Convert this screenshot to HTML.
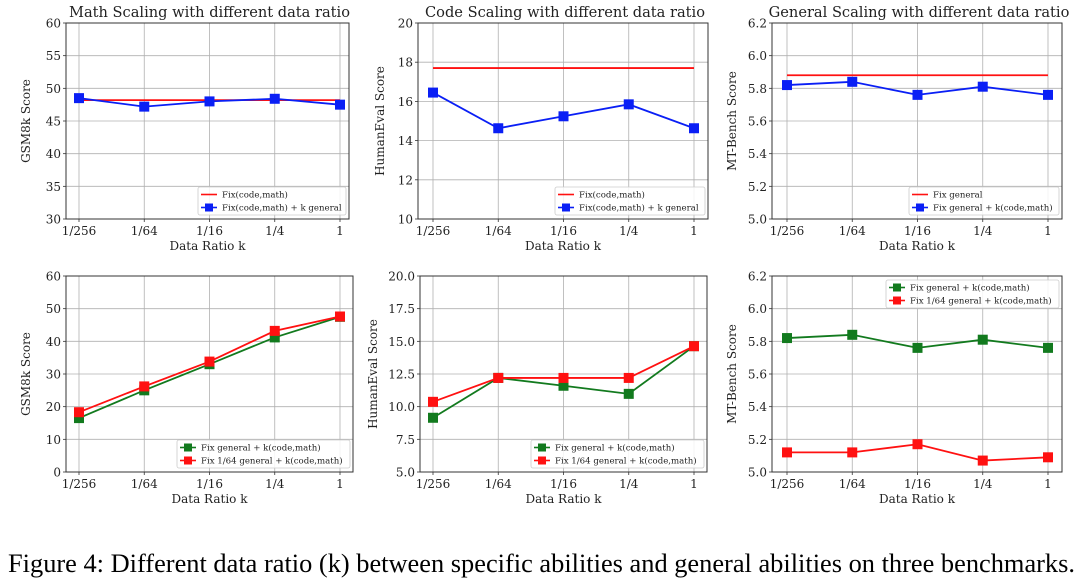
<!DOCTYPE html>
<html><head><meta charset="utf-8"><style>
body{margin:0;background:#fff;width:1080px;height:581px;overflow:hidden}
svg{display:block}
text{font-family:"DejaVu Serif","Liberation Serif",serif;fill:#222}
</style></head><body>
<svg id="fig" width="1080" height="581"></svg>
<script>
const categories=["1/256","1/64","1/16","1/4","1"];
// Panel 1: Math
const mathFixed=[48.2,48.2,48.2,48.2,48.2];
const mathKGeneral=[48.5,47.2,48.0,48.4,47.5];
const mathTicks=[30,35,40,45,50,55,60];
// Panel 2: Code
const codeFixed=[17.7,17.7,17.7,17.7,17.7];
const codeKGeneral=[16.45,14.63,15.24,15.85,14.63];
const codeTicks=[10,12,14,16,18,20];
// Panel 3: General
const genFixed=[5.88,5.88,5.88,5.88,5.88];
const genKCodeMath=[5.82,5.84,5.76,5.81,5.76];
const genTicks=[5.0,5.2,5.4,5.6,5.8,6.0,6.2];
// Panel 4
const gsmFixGeneral=[16.5,25.0,33.0,41.2,47.5];
const gsmFix164=[18.3,26.2,33.8,43.2,47.6];
const gsmTicks=[0,10,20,30,40,50,60];
// Panel 5
const heFixGeneral=[9.15,12.2,11.6,10.98,14.63];
const heFix164=[10.37,12.2,12.2,12.2,14.63];
const heTicks=[5.0,7.5,10.0,12.5,15.0,17.5,20.0];
// Panel 6
const mtFixGeneral=[5.82,5.84,5.76,5.81,5.76];
const mtFix164=[5.12,5.12,5.17,5.07,5.09];
const mtTicks=[5.0,5.2,5.4,5.6,5.8,6.0,6.2];

const NS="http://www.w3.org/2000/svg";
const svg=document.getElementById('fig');
function mk(tag,attrs,parent,txt){const e=document.createElementNS(NS,tag);for(const k in attrs)e.setAttribute(k,attrs[k]);if(txt!==undefined)e.textContent=txt;(parent||svg).appendChild(e);return e;}

function panel(p){
  const g=mk('g',{});
  
  
  const ymin=p.ticks[0],ymax=p.ticks[p.ticks.length-1];
  const X=i=>p.tx0+(p.tx1-p.tx0)*i/(categories.length-1);
  const Y=v=>p.y1-(v-ymin)/(ymax-ymin)*(p.y1-p.y0);
  categories.forEach((c,i)=>{
    mk('line',{x1:X(i),x2:X(i),y1:p.y0,y2:p.y1,stroke:'#b0b0b0','stroke-width':0.8},g);
    mk('line',{x1:X(i),x2:X(i),y1:p.y1,y2:p.y1+3,stroke:'#333','stroke-width':0.8},g);
    const t=mk('text',{x:X(i),y:p.y1+16,'text-anchor':'middle','font-size':12},g,c);
    
    
  });
  p.ticks.forEach(v=>{
    mk('line',{x1:p.x0,x2:p.x1,y1:Y(v),y2:Y(v),stroke:'#b0b0b0','stroke-width':0.8},g);
    mk('line',{x1:p.x0-3,x2:p.x0,y1:Y(v),y2:Y(v),stroke:'#333','stroke-width':0.8},g);
    const t=mk('text',{x:p.x0-5,y:Y(v)+4.5,'text-anchor':'end','font-size':12},g,p.fmt(v));
    
    
  });
  mk('rect',{x:p.x0,y:p.y0,width:p.x1-p.x0,height:p.y1-p.y0,fill:'none',stroke:'#333','stroke-width':1},g);
  if(p.title){const t=mk('text',{x:(p.x0+p.x1)/2+2,y:p.y0-6,'text-anchor':'middle','font-size':14.6},g,p.title);
    }
  const xl=mk('text',{x:(p.x0+p.x1)/2,y:p.y1+31,'text-anchor':'middle','font-size':12},g,'Data Ratio k');
  
  const cy=(p.y0+p.y1)/2, cx=p.x0-p.ylabOff;
  const yl=mk('text',{x:cx,y:cy,'text-anchor':'middle','font-size':12,transform:`rotate(-90 ${cx} ${cy})`},g,p.ylabel);
  
  p.series.forEach(s=>{
    const pts=s.data.map((v,i)=>X(i)+','+Y(v)).join(' ');
    const l=mk('polyline',{points:pts,fill:'none',stroke:s.color,'stroke-width':1.8},g);
    
    if(s.marker) s.data.forEach((v,i)=>{
      const r=mk('rect',{x:X(i)-5,y:Y(v)-5,width:10,height:10,fill:s.color},g);
      
    });
  });
  const lw=p.legW,lh=28;
  const lx=p.x1-3-lw, ly=p.legTop?p.y0+4:p.y1-4-lh;
  const lg=mk('g',{},g);
  
  mk('rect',{x:lx,y:ly,width:lw,height:lh,fill:'#fff','fill-opacity':0.85,stroke:'#ccc','stroke-width':0.8,rx:2},lg);
  p.series.forEach((s,k)=>{
    const yy=ly+7.5+k*13;
    mk('line',{x1:lx+3,x2:lx+19,y1:yy,y2:yy,stroke:s.color,'stroke-width':1.6},lg);
    if(s.marker)mk('rect',{x:lx+7,y:yy-4,width:8,height:8,fill:s.color},lg);
    const t=mk('text',{x:lx+24,y:yy+3,'font-size':8.6},lg,s.label);
    
  });
}
const f0=v=>String(v), f1=v=>v.toFixed(1);
const R='#ff1111',B='#0a1ff5',G='#127a1e';
panel({name:'math-scaling-chart',x0:66,x1:349,tx0:79,tx1:340,y0:23,y1:219,ticks:mathTicks,fmt:f0,title:'Math Scaling with different data ratio',ylabel:'GSM8k Score',ylabOff:36,legW:148,
  series:[{data:mathFixed,color:R,label:'Fix(code,math)'},{data:mathKGeneral,color:B,marker:1,label:'Fix(code,math) + k general'}]});
panel({name:'code-scaling-chart',x0:418,x1:708,tx0:433,tx1:694,y0:23,y1:219,ticks:codeTicks,fmt:f0,title:'Code Scaling with different data ratio',ylabel:'HumanEval Score',ylabOff:34,legW:150,
  series:[{data:codeFixed,color:R,label:'Fix(code,math)'},{data:codeKGeneral,color:B,marker:1,label:'Fix(code,math) + k general'}]});
panel({name:'general-scaling-chart',x0:772,x1:1062,tx0:787,tx1:1048,y0:23,y1:219,ticks:genTicks,fmt:f1,title:'General Scaling with different data ratio',ylabel:'MT-Bench Score',ylabOff:36,legW:150,
  series:[{data:genFixed,color:R,label:'Fix general'},{data:genKCodeMath,color:B,marker:1,label:'Fix general + k(code,math)'}]});
panel({name:'gsm8k-fix-chart',x0:66,x1:353,tx0:79,tx1:340,y0:276,y1:472,ticks:gsmTicks,fmt:f0,ylabel:'GSM8k Score',ylabOff:36,legW:173,
  series:[{data:gsmFixGeneral,color:G,marker:1,label:'Fix general + k(code,math)'},{data:gsmFix164,color:R,marker:1,label:'Fix 1/64 general + k(code,math)'}]});
panel({name:'humaneval-fix-chart',x0:420,x1:707,tx0:433,tx1:694,y0:276,y1:472,ticks:heTicks,fmt:f1,ylabel:'HumanEval Score',ylabOff:43,legW:173,
  series:[{data:heFixGeneral,color:G,marker:1,label:'Fix general + k(code,math)'},{data:heFix164,color:R,marker:1,label:'Fix 1/64 general + k(code,math)'}]});
panel({name:'mtbench-fix-chart',x0:772,x1:1062,tx0:787,tx1:1048,y0:276,y1:472,ticks:mtTicks,fmt:f1,ylabel:'MT-Bench Score',ylabOff:36,legW:173,legTop:1,
  series:[{data:mtFixGeneral,color:G,marker:1,label:'Fix general + k(code,math)'},{data:mtFix164,color:R,marker:1,label:'Fix 1/64 general + k(code,math)'}]});
const cap=mk('text',{x:8,y:572,'font-size':26,textLength:1067,lengthAdjust:'spacingAndGlyphs',style:'font-family:"Liberation Serif",serif;fill:#000'},svg,'Figure 4: Different data ratio (k) between specific abilities and general abilities on three benchmarks.');


</script>
</body></html>
